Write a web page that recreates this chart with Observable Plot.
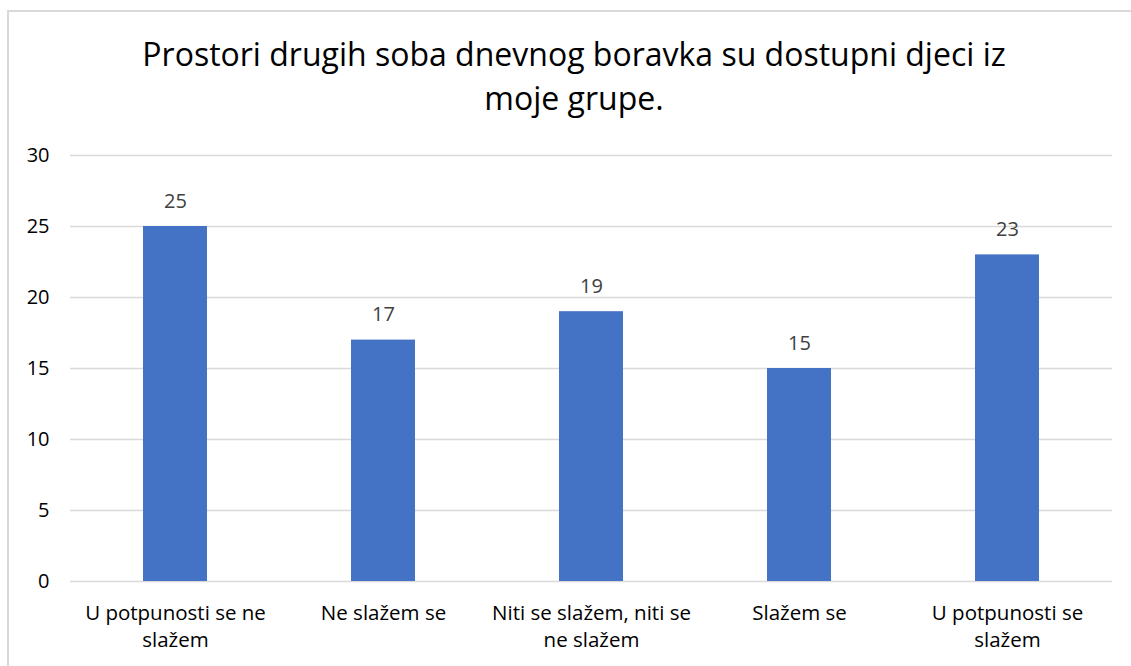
<!DOCTYPE html>
<html>
<head>
<meta charset="utf-8">
<script src="https://cdn.jsdelivr.net/npm/d3@7"></script>
<script src="https://cdn.jsdelivr.net/npm/@observablehq/plot@0.6"></script>
<style>
  html, body { margin: 0; padding: 0; background: #fff; width: 1131px; height: 666px; overflow: hidden; }
  #frame { position: absolute; left: 7px; top: 10px; width: 1140px; height: 670px; border: 2px solid #d9d9d9; box-sizing: border-box; }
  #title { position: absolute; left: 0; top: 32px; width: 1148px; text-align: center; font-family: "Open Sans", sans-serif; font-size: 32px; line-height: 44px; color: #000; }
  #chart { position: absolute; left: 0; top: 130px; }
  #chart svg { overflow: visible; }
</style>
</head>
<body>
<div id="frame"></div>
<div id="title">Prostori drugih soba dnevnog boravka su dostupni djeci iz<br>moje grupe.</div>
<div id="chart"></div>
<script>
const categories = [
  "U potpunosti se ne slažem",
  "Ne slažem se",
  "Niti se slažem, niti se ne slažem",
  "Slažem se",
  "U potpunosti se slažem"
];
const values = [25, 17, 19, 15, 23];
const tickLabels = [
  "U potpunosti se ne\nslažem",
  "Ne slažem se",
  "Niti se slažem, niti se\nne slažem",
  "Slažem se",
  "U potpunosti se\nslažem"
];
const yTicks = [0, 5, 10, 15, 20, 25, 30];

const data = categories.map((c, i) => ({category: c, value: values[i]}));
const labelOf = new Map(categories.map((c, i) => [c, tickLabels[i]]));

const chart = Plot.plot({
  width: 1131,
  height: 536,
  marginTop: 25,
  marginBottom: 85,
  marginLeft: 70,
  marginRight: 19,
  style: {fontFamily: "'Open Sans', sans-serif", background: "transparent"},
  x: {domain: categories, paddingInner: 0.69, paddingOuter: 0.345, label: null},
  y: {domain: [0, 30], label: null},
  marks: [
    Plot.gridY(yTicks, {stroke: "#d9d9d9", strokeOpacity: 1, strokeWidth: 1.5}),
    Plot.barY(data, {x: "category", y: "value", fill: "#4472c4"}),
    Plot.text(data, {x: "category", y: "value", text: d => String(d.value), lineAnchor: "bottom", dy: -19, fontSize: 20, fill: "#404040"}),
    Plot.axisY(yTicks, {tickSize: 0, tickPadding: 21, fontSize: 20, fill: "#000", label: null}),
    Plot.axisX({tickSize: 0, tickPadding: 19, fontSize: 20.5, fill: "#000", lineHeight: 1.33, tickFormat: d => labelOf.get(d), label: null})
  ]
});
document.getElementById("chart").appendChild(chart);
</script>
</body>
</html>
